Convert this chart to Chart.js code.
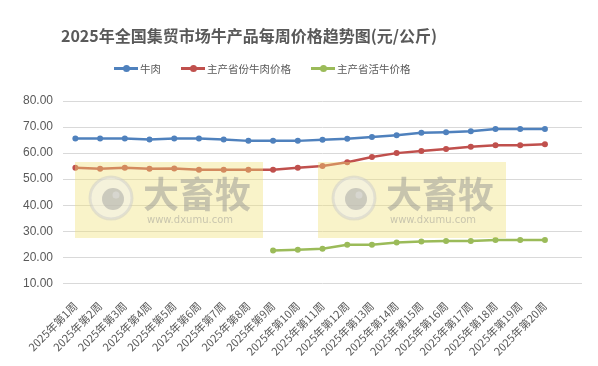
<!DOCTYPE html>
<html>
<head>
<meta charset="utf-8">
<script src="https://cdn.jsdelivr.net/npm/chart.js@4/dist/chart.umd.min.js"></script>
<style>
  body { margin: 0; background: #fff; font-family: "Noto Sans CJK SC", sans-serif; }
  #wrap { position: relative; width: 598px; height: 366px; }
  #title { position: absolute; left: 0; width: 498px; top: 23px; text-align: center;
    font-size: 16px; font-weight: bold; color: #595959; }
  #legend { position: absolute; left: 114px; top: 61px; display: flex; gap: 20px;
    font-size: 10.5px; color: #595959; }
  .item { display: flex; align-items: center; }
  .swatch { position: relative; width: 24px; height: 3px; margin-right: 2px; }
  .swatch i { position: absolute; left: 9px; top: -2px; width: 7px; height: 7px; border-radius: 50%; }
</style>
</head>
<body>
<div id="wrap">
  <canvas id="c" width="598" height="366"></canvas>
  <div id="title">2025年全国集贸市场牛产品每周价格趋势图(元/公斤)</div>
  <div id="legend"></div>
</div>
<script>
const weeks = ['2025年第1周', '2025年第2周', '2025年第3周', '2025年第4周', '2025年第5周',
  '2025年第6周', '2025年第7周', '2025年第8周', '2025年第9周', '2025年第10周',
  '2025年第11周', '2025年第12周', '2025年第13周', '2025年第14周', '2025年第15周',
  '2025年第16周', '2025年第17周', '2025年第18周', '2025年第19周', '2025年第20周'];
const beef = [65.6, 65.6, 65.6, 65.2, 65.6, 65.6, 65.2, 64.7, 64.7, 64.7,
  65.1, 65.5, 66.2, 66.9, 67.8, 68.0, 68.4, 69.3, 69.3, 69.3];
const provBeef = [54.4, 54.0, 54.4, 54.0, 54.1, 53.6, 53.6, 53.6, 53.6, 54.4,
  55.1, 56.5, 58.5, 60.0, 60.8, 61.6, 62.4, 63.0, 63.0, 63.4];
const liveCattle = [null, null, null, null, null, null, null, null, 22.6, 22.9,
  23.3, 24.8, 24.8, 25.7, 26.1, 26.3, 26.3, 26.7, 26.7, 26.7];
const yTicks = [10, 20, 30, 40, 50, 60, 70, 80];

const series = [
  { name: '牛肉', data: beef, color: '#4f81bd' },
  { name: '主产省份牛肉价格', data: provBeef, color: '#c0504d' },
  { name: '主产省活牛价格', data: liveCattle, color: '#9bbb59' }
];

// html legend
const legendEl = document.getElementById('legend');
series.forEach(s => {
  const d = document.createElement('div');
  d.className = 'item';
  d.innerHTML = `<span class="swatch" style="background:${s.color}"><i style="background:${s.color}"></i></span>${s.name}`;
  legendEl.appendChild(d);
});

// translucent watermark drawn over the plot
const watermark = {
  id: 'watermark',
  afterDraw(chart) {
    const ctx = chart.ctx;
    [75, 318].forEach(x0 => {
      const y0 = 162;
      ctx.save();
      ctx.fillStyle = 'rgba(240, 226, 120, 0.4)';
      ctx.fillRect(x0, y0, 188, 76);
      ctx.globalAlpha = 0.45;
      ctx.strokeStyle = '#c8c8c8';
      ctx.fillStyle = '#f2f2f2';
      ctx.lineWidth = 3;
      ctx.beginPath();
      ctx.arc(x0 + 36, y0 + 36, 21, 0, Math.PI * 2);
      ctx.fill();
      ctx.stroke();
      ctx.fillStyle = '#9a9a9a';
      ctx.beginPath();
      ctx.arc(x0 + 38, y0 + 37, 11, 0, Math.PI * 2);
      ctx.fill();
      ctx.fillStyle = '#e6e6e6';
      ctx.beginPath();
      ctx.arc(x0 + 41, y0 + 33, 3.5, 0, Math.PI * 2);
      ctx.fill();
      ctx.fillStyle = '#8c8c8c';
      ctx.font = 'bold 36px "Noto Sans CJK SC"';
      ctx.textBaseline = 'middle';
      ctx.fillText('大畜牧', x0 + 68, y0 + 32);
      ctx.font = '10px "DejaVu Sans"';
      ctx.fillText('www.dxumu.com', x0 + 72, y0 + 58);
      ctx.restore();
    });
  }
};

new Chart(document.getElementById('c'), {
  type: 'line',
  data: {
    labels: [...weeks, ''],
    datasets: series.map(s => ({
      label: s.name,
      data: s.data,
      borderColor: s.color,
      backgroundColor: s.color,
      borderWidth: 2.5,
      pointRadius: 3,
      pointBorderWidth: 0,
      tension: 0,
      spanGaps: false
    }))
  },
  options: {
    responsive: false,
    animation: false,
    layout: { padding: { top: 101, right: 16, left: 13, bottom: 0 } },
    plugins: { legend: { display: false }, title: { display: false }, tooltip: { enabled: false } },
    scales: {
      y: {
        min: 10, max: 80,
        afterBuildTicks: axis => { axis.ticks = yTicks.map(v => ({ value: v })); },
        grid: { color: '#d9d9d9', drawTicks: false },
        border: { display: false },
        ticks: { color: '#595959', font: { size: 12, family: 'Liberation Sans' }, padding: 10,
          callback: v => v.toFixed(2) }
      },
      x: {
        offset: true,
        grid: { display: false },
        border: { display: false },
        ticks: { color: '#595959', font: { size: 11, family: '"Noto Sans CJK SC"' },
          maxRotation: 45, minRotation: 45, autoSkip: false, padding: 8 }
      }
    }
  },
  plugins: [watermark]
});
</script>
</body>
</html>
